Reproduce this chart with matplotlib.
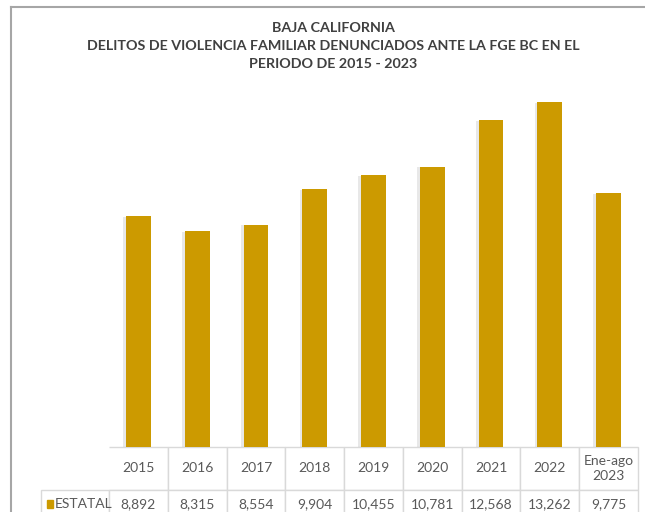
import matplotlib
matplotlib.use('Agg')
import matplotlib.pyplot as plt
import matplotlib.patheffects as pe
from matplotlib.patches import Rectangle
from matplotlib.lines import Line2D

plt.rcParams['font.family'] = ['Lato', 'DejaVu Sans']

years = ['2015', '2016', '2017', '2018', '2019', '2020', '2021', '2022', 'Ene-ago\n2023']
estatal = [8892, 8315, 8554, 9904, 10455, 10781, 12568, 13262, 9775]
series_name = 'ESTATAL'
title = ('BAJA CALIFORNIA\n'
         'DELITOS DE VIOLENCIA FAMILIAR DENUNCIADOS ANTE LA FGE BC EN EL\n'
         'PERIODO DE 2015 - 2023')

W, H = 645, 512
gold = '#CC9A00'
txt_gray = '#595959'
grid_gray = '#D9D9D9'

fig = plt.figure(figsize=(W / 100, H / 100), dpi=100)

def fx(px):
    return px / W

def fy(py):
    return 1 - py / H

# outer frame (cropped chart area)
fig.add_artist(Line2D([fx(11), fx(11)], [fy(7), -0.1], color='#A6A6A6', lw=1.5))
fig.add_artist(Line2D([fx(11), 1.1], [fy(7), fy(7)], color='#A6A6A6', lw=1.5))

fig.text(fx(333), fy(46), title, ha='center', va='center', fontsize=10.3,
         fontweight='bold', color='#404040', linespacing=1.55)

plot_h = 364
ax = fig.add_axes([fx(109), fy(447), fx(638) - fx(109), fy(83) - fy(447)])
x = list(range(len(years)))
bars = ax.bar(x, estatal, width=0.42, color=gold, zorder=3)
for b in bars:
    b.set_path_effects([pe.SimplePatchShadow(offset=(-2, -0.5), shadow_rgbFace='#909090', alpha=0.2),
                        pe.Normal()])
ax.set_xlim(-0.5, len(years) - 0.5)
ax.set_ylim(0, 14000)
ax.axis('off')

# data table below the bars
head_h = 43 / plot_h
data_h = 28 / plot_h
lab_w = 68 / 529
cells = [[''] + years, [''] + [f'{v:,}' for v in estatal]]
tbl = ax.table(cellText=cells, cellLoc='center',
               colWidths=[lab_w] + [1 / len(years)] * len(years),
               bbox=[-lab_w, -(head_h + data_h), 1 + lab_w, head_h + data_h])
tbl.auto_set_font_size(False)
for (r, c), cell in tbl.get_celld().items():
    cell.set_edgecolor(grid_gray)
    cell.set_linewidth(1.0)
    cell.set_height(head_h if r == 0 else data_h)
    cell.get_text().set_fontsize(10)
    cell.get_text().set_color(txt_gray)
    cell.get_text().set_linespacing(1.3)
tbl[(0, 0)].visible_edges = ''
tbl[(0, 1)].visible_edges = 'TBR'

# series label with colour key
yc = -head_h - data_h / 2
ax.add_patch(Rectangle((-lab_w + 0.012, yc - 0.012), 0.01, 0.024,
                       transform=ax.transAxes, color=gold, clip_on=False))
ax.text(-lab_w + 0.026, yc, series_name, transform=ax.transAxes,
        ha='left', va='center', fontsize=10, color=txt_gray)

fig.savefig('out.png', dpi=100)
